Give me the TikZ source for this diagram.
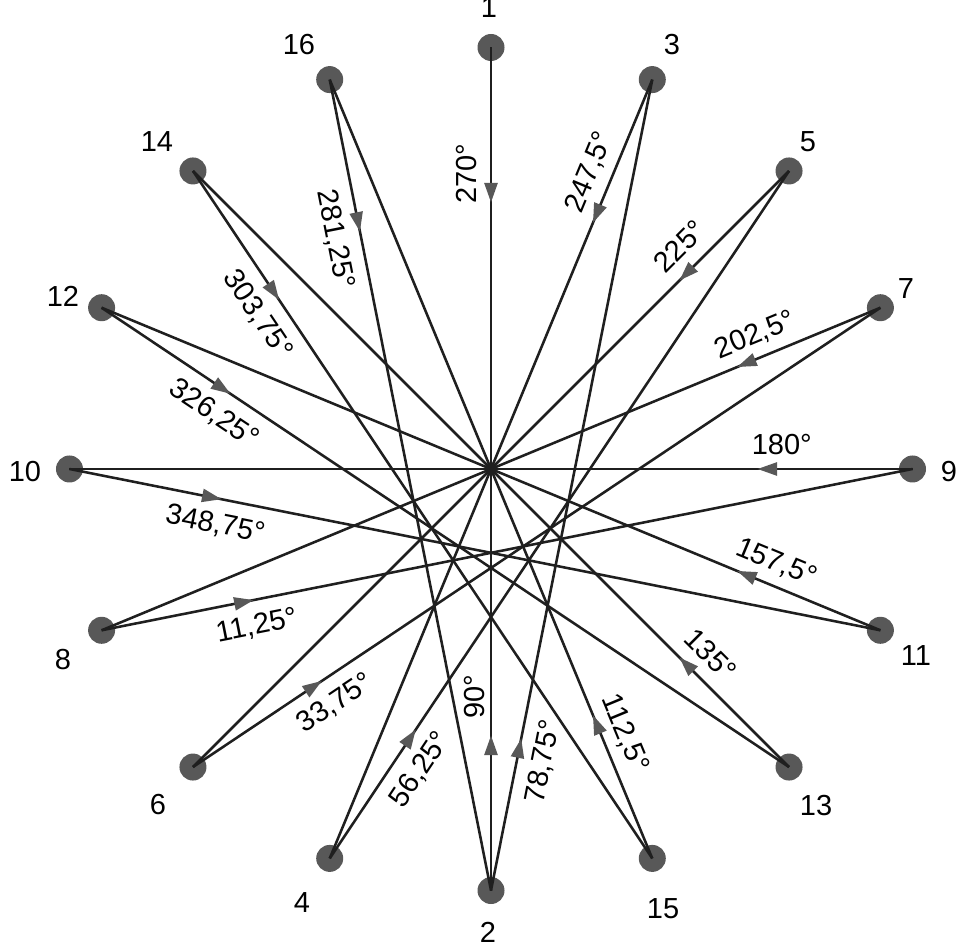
\documentclass[tikz,border=0pt]{standalone}
\usepackage{fontspec}
\setmainfont{Liberation Sans}
\usetikzlibrary{arrows.meta,decorations.markings}
\definecolor{ptgray}{RGB}{88,88,88}

\begin{document}
\begin{tikzpicture}[
  font=\fontsize{16.5}{19}\selectfont,
  dot/.style={circle, fill=ptgray, inner sep=0pt, minimum size=5.4mm},
  ray/.style={line width=1.45pt, draw=black!88},
  arr/.style={ray, postaction={decorate}, decoration={markings,
      mark=at position 3.1cm with {\arrow{Triangle[length=3.9mm, width=2.6mm, color=ptgray]}}}},
  deg/.style={inner sep=0pt, text height=11.5pt, text depth=0pt}]
  \useasboundingbox (-9.82,-9.62) rectangle (9.38,9.38);
  \coordinate (o) at (0,0);
  \foreach \n/\a/\x/\y in {1/90/-0.04/9.22, 3/67.5/3.62/8.48, 5/45/6.34/6.54,
                           7/22.5/8.30/3.60, 9/0/9.16/-0.06, 11/-22.5/8.50/-3.74,
                           13/-45/6.50/-6.74, 15/-67.5/3.44/-8.80, 2/-90/-0.06/-9.26,
                           4/-112.5/-3.78/-8.68, 6/-135/-6.66/-6.72, 8/-157.5/-8.56/-3.82,
                           10/180/-9.32/-0.06, 12/157.5/-8.56/3.46, 14/135/-6.68/6.54,
                           16/112.5/-3.84/8.48} {
    \node[dot] (p\n) at (\a:8.43) {};
    \node (t\n) at (\x,\y) {\n};
  }
  \foreach \n in {4,6,...,16} \draw[ray] (p\n.center) -- (o);
  \foreach \s/\r/\t/\p in {1/90/270/0.3, 3/67.5/{247,5}/0.26, 5/45/225/0.31,
                           7/22.5/{202,5}/0.3, 9/0/180/0.31, 11/-22.5/{157,5}/0.29,
                           13/-45/135/0.32, 15/-67.5/{112,5}/0.3}
    \draw[arr] (p\s.center) -- node[deg, pos=\p, rotate=\r, above=7.3pt] (l\s) {\t°} (o);
  \draw[arr] (p2.center) -- node[deg, pos=0.46, rotate=90, above=2.8pt] (l2) {90°} (o);
  \foreach \s/\e/\r/\t/\p in {2/3/78.75/{78,75}/0.165, 4/5/56.25/{56,25}/0.15,
                              6/7/33.75/{33,75}/0.186, 8/9/11.25/{11,25}/0.185,
                              10/11/-11.25/{348,75}/0.186, 12/13/-33.75/{326,25}/0.184,
                              14/15/-56.25/{303,75}/0.188, 16/2/-78.75/{281,25}/0.191}
    \draw[arr] (p\s.center) -- node[deg, pos=\p, rotate=\r, below=7.3pt] (c\s) {\t°} (p\e.center);
\end{tikzpicture}
\end{document}
